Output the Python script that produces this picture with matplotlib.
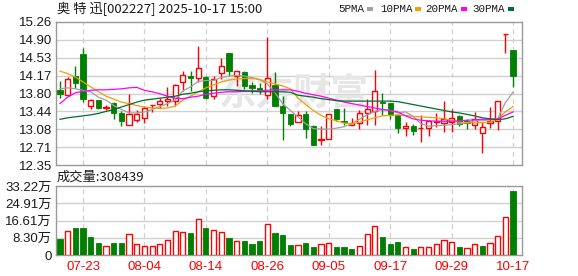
import matplotlib.pyplot as plt
from matplotlib.patches import Rectangle

dates = [
    "07-18", "07-21", "07-22", "07-23", "07-24", "07-25", "07-28", "07-29", "07-30", "07-31",
    "08-01", "08-04", "08-05", "08-06", "08-07", "08-08", "08-11", "08-12", "08-13", "08-14",
    "08-15", "08-18", "08-19", "08-20", "08-21", "08-22", "08-25", "08-26", "08-27", "08-28",
    "08-29", "09-01", "09-02", "09-03", "09-04", "09-05", "09-08", "09-09", "09-10", "09-11",
    "09-12", "09-15", "09-16", "09-17", "09-18", "09-19", "09-22", "09-23", "09-24", "09-25",
    "09-26", "09-29", "09-30", "10-09", "10-10", "10-13", "10-14", "10-15", "10-16", "10-17",
]
date_labels = ["07-23", "08-04", "08-14", "08-26", "09-05", "09-17", "09-29", "10-17"]

prev_close = 13.90
opens = [
    13.87, 13.78, 14.16, 14.60, 13.56, 13.67, 13.50, 13.61, 13.41, 13.16,
    13.27, 13.31, 13.57, 13.60, 13.66, 13.65, 14.03, 14.17, 14.13, 14.14,
    13.75, 14.23, 14.63, 14.16, 14.24, 13.98, 13.92, 13.78, 13.98, 13.55,
    13.38, 13.22, 13.38, 13.14, 12.85, 12.87, 13.48, 13.25, 13.17, 13.21,
    13.41, 13.44, 13.63, 13.61, 13.37, 13.10, 13.14, 13.10, 13.10, 13.22,
    13.20, 13.22, 13.34, 13.25, 13.16, 13.01, 13.21, 13.24, 15.02, 14.70,
]
highs = [
    14.05, 14.14, 14.36, 14.73, 13.70, 13.67, 13.58, 13.63, 13.44, 13.79,
    13.46, 13.56, 13.58, 13.71, 13.93, 14.00, 14.26, 14.26, 14.77, 14.17,
    14.16, 14.53, 14.63, 14.26, 14.26, 14.04, 14.02, 14.95, 14.24, 13.75,
    13.38, 13.44, 13.44, 13.16, 13.14, 13.38, 13.48, 13.51, 13.31, 13.46,
    13.70, 14.28, 13.81, 13.61, 13.39, 13.22, 13.19, 13.36, 13.25, 13.41,
    13.65, 13.48, 13.37, 13.29, 13.43, 13.22, 13.53, 13.65, 15.02, 14.70,
]
lows = [
    13.71, 13.77, 13.92, 13.63, 13.48, 13.48, 13.46, 13.29, 13.14, 13.16,
    13.22, 13.21, 13.43, 13.51, 13.56, 13.56, 13.85, 13.85, 14.04, 13.69,
    13.69, 14.11, 14.16, 13.95, 13.89, 13.82, 13.80, 13.70, 13.55, 12.85,
    13.14, 13.22, 12.89, 12.75, 12.76, 12.87, 13.24, 13.16, 13.16, 13.09,
    13.17, 13.16, 13.37, 13.29, 13.01, 12.94, 12.97, 12.82, 12.95, 13.12,
    13.02, 13.02, 13.14, 13.09, 13.08, 12.60, 13.10, 13.07, 14.62, 13.94,
]
closes = [
    13.80, 14.09, 14.02, 13.69, 13.67, 13.52, 13.54, 13.41, 13.25, 13.38,
    13.39, 13.52, 13.58, 13.65, 13.69, 13.97, 14.19, 14.13, 14.32, 13.71,
    14.09, 14.36, 14.26, 14.26, 13.96, 13.92, 13.88, 14.12, 13.56, 13.41,
    13.19, 13.36, 13.09, 12.76, 12.87, 13.38, 13.29, 13.22, 13.21, 13.41,
    13.48, 13.85, 13.61, 13.37, 13.10, 13.14, 13.04, 13.11, 13.24, 13.24,
    13.28, 13.30, 13.18, 13.21, 13.29, 13.12, 13.25, 13.65, 15.02, 14.16,
]
volumes = [
    7.70, 11.55, 13.0, 13.0, 8.67, 5.78, 4.17, 5.78, 5.78, 9.95,
    5.13, 4.17, 4.17, 5.13, 7.06, 11.39, 10.91, 10.59, 17.17, 13.0,
    11.87, 10.91, 8.18, 6.74, 6.74, 5.30, 6.74, 14.92, 10.59, 9.63,
    4.81, 4.65, 5.78, 3.85, 5.30, 5.78, 3.85, 3.85, 2.89, 4.17,
    9.95, 13.80, 8.67, 5.30, 6.26, 3.69, 2.73, 3.69, 3.69, 5.30,
    7.06, 6.26, 3.85, 3.37, 5.13, 4.33, 5.78, 8.99, 18.13, 30.84,
]

ma5 = [
    13.90, 13.92, 13.90, 13.87, 13.84, 13.73, 13.67, 13.56, 13.48, 13.41,
    13.41, 13.43, 13.48, 13.54, 13.60, 13.67, 13.86, 13.94, 14.05, 14.07,
    14.07, 14.13, 14.16, 14.17, 14.16, 14.13, 14.09, 14.00, 13.82, 13.60,
    13.46, 13.33, 13.19, 13.09, 13.08, 13.08, 13.10, 13.13, 13.19, 13.28,
    13.37, 13.44, 13.48, 13.46, 13.41, 13.43, 13.34, 13.19, 13.14, 13.15,
    13.16, 13.17, 13.19, 13.21, 13.25, 13.25, 13.27, 13.29, 13.62, 13.83,
]
ma10 = [
    14.26, 14.21, 14.14, 14.04, 13.94, 13.84, 13.75, 13.69, 13.63, 13.60,
    13.56, 13.53, 13.51, 13.50, 13.51, 13.55, 13.67, 13.75, 13.84, 13.92,
    13.98, 14.04, 14.08, 14.10, 14.11, 14.11, 14.09, 14.04, 14.00, 13.96,
    13.90, 13.71, 13.58, 13.46, 13.36, 13.29, 13.25, 13.20, 13.19, 13.22,
    13.27, 13.31, 13.35, 13.36, 13.37, 13.36, 13.34, 13.33, 13.32, 13.31,
    13.29, 13.26, 13.22, 13.21, 13.21, 13.21, 13.22, 13.29, 13.43, 13.54,
]
ma20 = [
    13.60, 13.73, 13.82, 13.85, 13.87, 13.88, 13.88, 13.89, 13.90, 13.92,
    13.93, 13.87, 13.84, 13.80, 13.75, 13.71, 13.70, 13.73, 13.75, 13.79,
    13.81, 13.83, 13.84, 13.84, 13.85, 13.86, 13.86, 13.87, 13.88, 13.88,
    13.88, 13.85, 13.81, 13.78, 13.75, 13.71, 13.67, 13.63, 13.60, 13.57,
    13.54, 13.51, 13.48, 13.46, 13.43, 13.35, 13.29, 13.26, 13.25, 13.24,
    13.24, 13.24, 13.25, 13.26, 13.27, 13.28, 13.28, 13.29, 13.36, 13.43,
]
ma30 = [
    13.28, 13.31, 13.33, 13.35, 13.37, 13.40, 13.44, 13.48, 13.53, 13.58,
    13.63, 13.67, 13.69, 13.71, 13.73, 13.75, 13.79, 13.81, 13.84, 13.86,
    13.87, 13.88, 13.88, 13.87, 13.86, 13.85, 13.84, 13.84, 13.84, 13.84,
    13.83, 13.77, 13.75, 13.73, 13.70, 13.68, 13.66, 13.65, 13.65, 13.65,
    13.65, 13.65, 13.65, 13.65, 13.64, 13.61, 13.58, 13.55, 13.52, 13.49,
    13.46, 13.43, 13.41, 13.38, 13.35, 13.31, 13.29, 13.27, 13.29, 13.34,
]

price_ticks = [12.35, 12.71, 13.08, 13.44, 13.80, 14.17, 14.53, 14.90, 15.26]
volume_ticks = [0, 8.30, 16.61, 24.91, 33.22]
volume_tick_labels = ["0", "8.30万", "16.61万", "24.91万", "33.22万"]
title_text = "奥 特 迅[002227] 2025-10-17 15:00"
volume_text = "成交量:308439"
ma_names = ["5PMA", "10PMA", "20PMA", "30PMA"]

RED = "#ff0000"
GREEN = "#008000"
MA_COLORS = ["#a0a0a0", "#f0a000", "#ff00ff", "#006e2e"]
GRID = "#d0d0d0"
FRAME = "#999999"

plt.rcParams["font.family"] = ["Liberation Sans", "Noto Sans CJK SC"]

W, H = 578, 276
fig = plt.figure(figsize=(W / 100, H / 100), dpi=100)


def box(left, top, right, bottom):
    return [left / W, 1 - bottom / H, (right - left) / W, (bottom - top) / H]


ax = fig.add_axes(box(56, 22, 522, 165))
vax = fig.add_axes(box(56, 186, 522, 255))

n = len(closes)
xs = list(range(n))
xlim = (-0.52, n + 0.17)
tick_pos = [dates.index(d) for d in date_labels]

for a in (ax, vax):
    a.set_xlim(*xlim)
    for s in a.spines.values():
        s.set_color(FRAME)
        s.set_linewidth(1.0)
    a.tick_params(length=0, pad=3, labelsize=9.5, colors="#1a1a1a")
    a.set_xticks(tick_pos)
    for p in tick_pos:
        a.axvline(p, color=GRID, lw=0.9, ls=(0, (4, 3)), zorder=0)

ax.set_ylim(price_ticks[0], price_ticks[-1])
ax.set_yticks(price_ticks)
ax.set_yticklabels([f"{t:.2f}" for t in price_ticks])
ax.set_xticklabels([])
for t in price_ticks[1:-1]:
    ax.axhline(t, color=GRID, lw=1.0, zorder=0)

ax.text(0.51, 0.50, "东方财富", transform=ax.transAxes, ha="center", va="center",
        fontsize=27, color="#e6e6e6", fontweight="bold", style="italic",
        family=["Noto Sans CJK SC"], zorder=0.5)

body_w = 0.68
for i in xs:
    up = closes[i] >= opens[i]
    color = RED if up else GREEN
    lo_body = min(opens[i], closes[i])
    hi_body = max(opens[i], closes[i])
    ax.vlines(i, lows[i], lo_body, color=color, lw=1.0, zorder=2)
    ax.vlines(i, hi_body, highs[i], color=color, lw=1.0, zorder=2)
    height = max(hi_body - lo_body, 0.004)
    if up:
        ax.bar(i, height, bottom=lo_body, width=body_w, facecolor="white",
               edgecolor=RED, lw=1.0, zorder=3)
    else:
        ax.bar(i, height, bottom=lo_body, width=body_w, facecolor=GREEN,
               edgecolor=GREEN, lw=0.6, zorder=3)

for series, color in zip([ma5, ma10, ma20, ma30], MA_COLORS):
    ax.plot(xs, series, color=color, lw=0.9, zorder=4)

vax.set_ylim(volume_ticks[0], volume_ticks[-1])
vax.set_yticks(volume_ticks)
vax.set_yticklabels(volume_tick_labels)
vax.set_xticklabels(date_labels, color=RED)
vax.tick_params(axis="x", pad=4)
for t in volume_ticks[1:-1]:
    vax.axhline(t, color=GRID, lw=1.0, zorder=0)

last = prev_close
for i in xs:
    up = closes[i] >= last
    last = closes[i]
    if up:
        vax.bar(i, volumes[i], width=body_w, facecolor="white", edgecolor=RED, lw=1.0, zorder=3)
    else:
        vax.bar(i, volumes[i], width=body_w, facecolor=GREEN, edgecolor=GREEN, lw=0.6, zorder=3)

fig.text(57 / W, 1 - 9 / H, title_text, ha="left", va="center", fontsize=9.5,
         family=["Noto Sans CJK SC"], color="#1a1a1a")
fig.text(57 / W, 1 - 177 / H, volume_text, ha="left", va="center", fontsize=9.5,
         family=["Noto Sans CJK SC"], color="#1a1a1a")

# legend: label text then a small coloured swatch
legend_text_x = [338, 380, 425, 472]
legend_box_x = [367, 415, 461, 508]
for name, color, tx, bx in zip(ma_names, MA_COLORS, legend_text_x, legend_box_x):
    fig.text(tx / W, 1 - 9 / H, name, ha="left", va="center", fontsize=7.8,
             family=["Liberation Mono"], color="#1a1a1a")
    fig.patches.append(Rectangle((bx / W, 1 - 11 / H), 6 / W, 4 / H,
                                 transform=fig.transFigure, facecolor=color,
                                 edgecolor="none"))

fig.savefig("out.png", dpi=100)
